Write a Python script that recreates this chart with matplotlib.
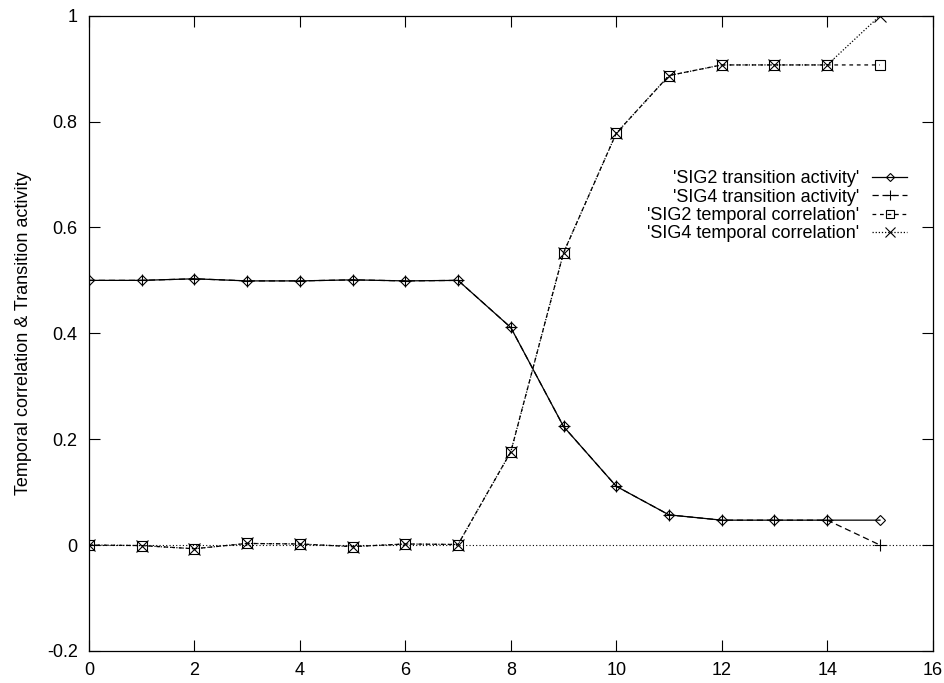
import numpy as np
import matplotlib.pyplot as plt
from matplotlib.ticker import FuncFormatter

plt.rcParams['font.family'] = ['Liberation Sans', 'DejaVu Sans']

x = np.arange(16)
sig2_act = [0.500, 0.500, 0.503, 0.499, 0.499, 0.501, 0.499, 0.500,
            0.411, 0.224, 0.111, 0.057, 0.047, 0.047, 0.047, 0.047]
sig4_act = [0.500, 0.500, 0.503, 0.499, 0.499, 0.501, 0.499, 0.500,
            0.411, 0.224, 0.111, 0.057, 0.047, 0.047, 0.047, 0.000]
sig2_corr = [0.000, -0.001, -0.007, 0.003, 0.002, -0.003, 0.002, 0.001,
             0.176, 0.552, 0.778, 0.887, 0.907, 0.907, 0.907, 0.907]
sig4_corr = [0.000, -0.001, -0.007, 0.003, 0.002, -0.003, 0.002, 0.001,
             0.176, 0.552, 0.778, 0.887, 0.907, 0.907, 0.907, 1.000]

fig = plt.figure(figsize=(9.45, 6.83), dpi=100)
ax = fig.add_axes([0.094, 0.047, 0.893, 0.930])

ax.axhline(0, color='black', lw=0.8, ls=(0, (1, 2)), zorder=1)

lw = 0.9
ms = 7
ax.plot(x, sig2_act, '-', color='black', lw=lw, marker='D', ms=ms * 0.75,
        mfc='none', mew=0.8, label="'SIG2 transition activity'")
ax.plot(x, sig4_act, '--', color='black', lw=lw, dashes=(5, 3), marker='+',
        ms=ms * 1.2, mew=0.8, label="'SIG4 transition activity'")
ax.plot(x, sig2_corr, '--', color='black', lw=lw, dashes=(3, 3), marker='s',
        ms=ms, mfc='none', mew=0.8, label="'SIG2 temporal correlation'")
ax.plot(x, sig4_corr, ':', color='black', lw=lw, dashes=(1, 1.5), marker='x',
        ms=ms * 1.2, mew=0.8, label="'SIG4 temporal correlation'")

ax.set_xlim(0, 16)
ax.set_ylim(-0.2, 1.0)
ax.set_xticks(np.arange(0, 17, 2))
ax.set_yticks(np.arange(-0.2, 1.01, 0.2))
ax.yaxis.set_major_formatter(FuncFormatter(
    lambda v, p: "0" if abs(v) < 1e-9 else f"{v:.1f}".rstrip('0').rstrip('.')))
ax.tick_params(direction='in', length=8, width=0.8, top=True, right=True,
               labelsize=13, pad=8)
for s in ax.spines.values():
    s.set_linewidth(0.9)

ax.set_ylabel('Temporal correlation & Transition activity', fontsize=13, labelpad=11)

leg = ax.legend(loc='upper right', bbox_to_anchor=(0.970, 0.757), frameon=False,
                markerfirst=False, fontsize=13, handlelength=1.95,
                handletextpad=0.72, labelspacing=0.08, borderaxespad=0,
                borderpad=0, markerscale=0.8)
for t in leg.get_texts():
    t.set_ha('right')
leg._legend_box.align = 'right'

fig.savefig('out.png', dpi=100)
